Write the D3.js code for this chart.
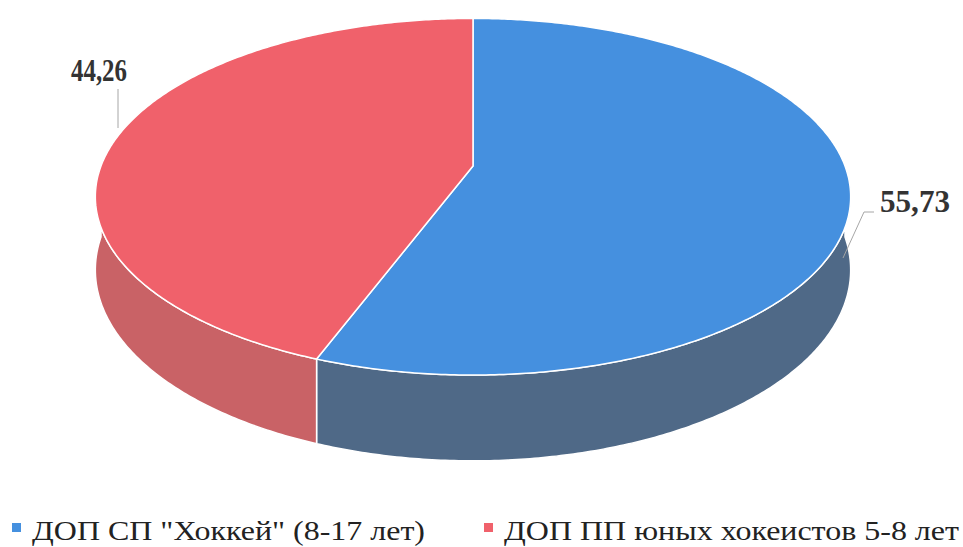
<!DOCTYPE html>
<html>
<head>
<meta charset="utf-8">
<script src="https://cdn.jsdelivr.net/npm/d3@7"></script>
<style>
  body { margin: 0; background: #fff; }
  svg { display: block; }
</style>
</head>
<body>
<svg id="chart" width="963" height="547"></svg>
<script>
// values
var categories = ['ДОП СП "Хоккей" (8-17 лет)', 'ДОП ПП юных хокеистов 5-8 лет'];
var values = [55.73, 44.26];
var labels = ['55,73', '44,26'];
var topColors = ['#4590df', '#f0616b'];
var sideColors = ['#4f6987', '#c96266'];

var svg = d3.select('#chart');
// pie geometry with a little perspective (front half is closer, so bigger)
var cx = 473, cy = 166, rx = 372, ry = 173, depth = 71, persp = 5.8;

var pie = d3.pie().sort(null).value(d => d);
var arcs = pie(values);

// point on the rim at angle t (clockwise from 12 o'clock)
function pt(t, down) {
  var X = Math.sin(t), Z = -Math.cos(t);
  var f = persp / (persp - Z);
  return [cx + rx * X * f, cy + ry * Z * f + (down ? depth * f : 0)];
}
function sweep(a, b, down) {
  var n = Math.max(2, Math.ceil((b - a) / 0.01));
  return d3.range(n + 1).map(i => pt(a + (b - a) * i / n, down));
}
var line = d3.line();

var g = svg.append('g');

// side walls (only the front half is visible)
arcs.forEach(function (a, i) {
  var s = Math.max(a.startAngle, Math.PI / 2);
  var e = Math.min(a.endAngle, Math.PI * 1.5);
  if (e <= s) return;
  var pts = sweep(s, e, false).concat(sweep(s, e, true).reverse());
  g.append('path')
    .attr('d', line(pts) + 'Z')
    .attr('fill', sideColors[i])
    .attr('stroke', '#fff')
    .attr('stroke-width', 1.5)
    .attr('stroke-linejoin', 'round');
});

// top faces
arcs.forEach(function (a, i) {
  var pts = [[cx, cy]].concat(sweep(a.startAngle, a.endAngle, false));
  g.append('path')
    .attr('d', line(pts) + 'Z')
    .attr('fill', topColors[i])
    .attr('stroke', '#fff')
    .attr('stroke-width', 1.5)
    .attr('stroke-linejoin', 'round');
});

// data labels with leader lines
var labelPos = [
  { x: 915, y: 212, w: 70, line: [[874, 212], [864, 212], [843, 258]] },
  { x: 99, y: 81, w: 56, line: [[118, 89], [118, 128]] }
];
labelPos.forEach(function (p, i) {
  svg.append('path')
    .attr('d', line(p.line))
    .attr('fill', 'none')
    .attr('stroke', '#a6a6a6')
    .attr('stroke-width', 1);
  svg.append('text')
    .attr('x', p.x - p.w / 2).attr('y', p.y)
    .attr('font-family', 'Liberation Serif, Times New Roman, serif')
    .attr('font-weight', 'bold')
    .attr('font-size', 32)
    .attr('fill', '#333')
    .attr('textLength', p.w)
    .attr('lengthAdjust', 'spacingAndGlyphs')
    .text(labels[i]);
});

// legend
var legendX = [12, 484];
var legendW = [393, 455];
var leg = svg.append('g');
categories.forEach(function (c, i) {
  leg.append('rect')
    .attr('x', legendX[i]).attr('y', 523)
    .attr('width', 9).attr('height', 9)
    .attr('fill', topColors[i]);
  leg.append('text')
    .attr('x', legendX[i] + 20).attr('y', 540)
    .attr('font-family', 'Liberation Serif, Times New Roman, serif')
    .attr('font-size', 27)
    .attr('fill', '#222')
    .attr('textLength', legendW[i])
    .attr('lengthAdjust', 'spacingAndGlyphs')
    .text(c);
});
</script>
</body>
</html>
